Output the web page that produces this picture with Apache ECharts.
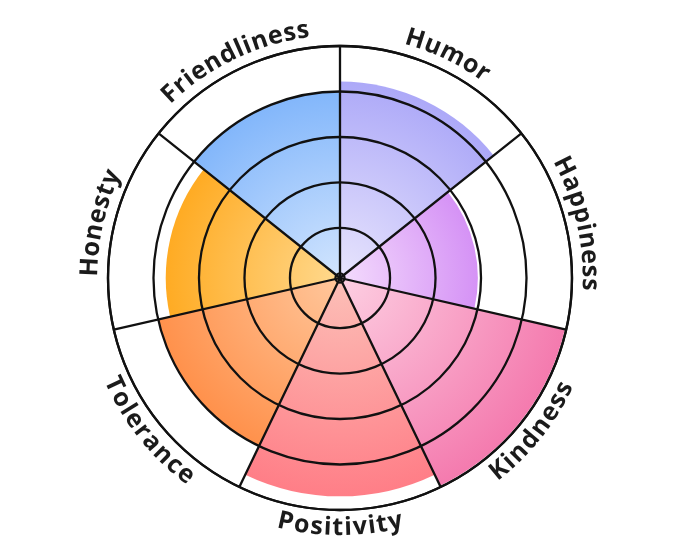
<!DOCTYPE html>
<html>
<head>
<meta charset="utf-8">
<script src="https://cdn.jsdelivr.net/npm/echarts@6/dist/echarts.min.js"></script>
<style>
  html, body { margin: 0; padding: 0; background: #fff; }
  #main { width: 680px; height: 557px; }
</style>
</head>
<body>
<div id="main"></div>
<script>
var categories = ['Humor', 'Happiness', 'Kindness', 'Positivity', 'Tolerance', 'Honesty', 'Friendliness'];
var scores = [4.22, 2.93, 4.97, 4.7, 4.0, 3.73, 4.0];
var innerColors = ['#e8e5fd', '#f4dcfd', '#fdcfe2', '#fcc0b8', '#ffc79c', '#ffd98e', '#d2e5fe'];
var outerColors = ['#a29ef7', '#c060f0', '#f47aae', '#ff7a84', '#ff8438', '#ff9c00', '#6fabfa'];

var cx = 340, cy = 278, outerR = 232;
var labelR = 250;
var fontSize = 25;
var fontFamily = '"Open Sans", "Noto Sans", sans-serif';
var letterGap = 1;
var lineColor = '#111';
var lineWidth = 2.3;

var chart = echarts.init(document.getElementById('main'));

// measure characters so the labels can be bent along the circle
var ctx = document.createElement('canvas').getContext('2d');
ctx.font = 'bold ' + fontSize + 'px ' + fontFamily;

function curvedLabel(text, centerDeg) {
  var widths = text.split('').map(function (ch) { return ctx.measureText(ch).width; });
  var total = widths.reduce(function (a, b) { return a + b; }, 0) + letterGap * (text.length - 1);
  var span = total / labelR;
  var c = centerDeg * Math.PI / 180;
  var top = Math.sin(c) > 0;
  var els = [];
  var pos = 0;
  for (var i = 0; i < text.length; i++) {
    var mid = pos + widths[i] / 2;
    var th = top ? c + span / 2 - mid / labelR : c - span / 2 + mid / labelR;
    els.push({
      type: 'text',
      x: cx + labelR * Math.cos(th),
      y: cy - labelR * Math.sin(th),
      rotation: top ? th - Math.PI / 2 : th + Math.PI / 2,
      silent: true,
      style: {
        text: text[i],
        fill: '#1b1b1b',
        fontSize: fontSize,
        fontWeight: 'bold',
        fontFamily: fontFamily,
        align: 'center',
        verticalAlign: 'middle',
        textAlign: 'center',
        textVerticalAlign: 'middle'
      }
    });
    pos += widths[i] + letterGap;
  }
  return els;
}

var labelEls = [];
categories.forEach(function (name, i) {
  var deg = 90 - (i + 0.5) * 360 / categories.length;
  labelEls = labelEls.concat(curvedLabel(name, deg));
});

var option = {
  backgroundColor: '#fff',
  animation: false,
  polar: {
    center: [cx, cy],
    radius: [0, outerR]
  },
  angleAxis: {
    type: 'category',
    data: categories,
    startAngle: 90,
    clockwise: true,
    z: 10,
    axisLine: { show: true, lineStyle: { color: lineColor, width: lineWidth } },
    axisTick: { show: false },
    axisLabel: { show: false },
    splitLine: { show: true, lineStyle: { color: lineColor, width: lineWidth } }
  },
  radiusAxis: {
    type: 'value',
    min: -0.1,
    max: 5,
    startValue: -0.1,
    z: 10,
    axisLine: { show: false },
    axisTick: { show: false },
    axisLabel: { show: false },
    splitLine: { show: true, lineStyle: { color: lineColor, width: lineWidth } }
  },
  series: [{
    type: 'bar',
    coordinateSystem: 'polar',
    barCategoryGap: '0%',
    silent: true,
    data: scores.map(function (v, i) {
      return {
        value: v,
        itemStyle: {
          color: new echarts.graphic.RadialGradient(cx, cy, outerR, [
            { offset: 0, color: innerColors[i] },
            { offset: 1, color: outerColors[i] }
          ], true)
        }
      };
    })
  }],
  graphic: { elements: labelEls }
};

chart.setOption(option);
</script>
</body>
</html>
